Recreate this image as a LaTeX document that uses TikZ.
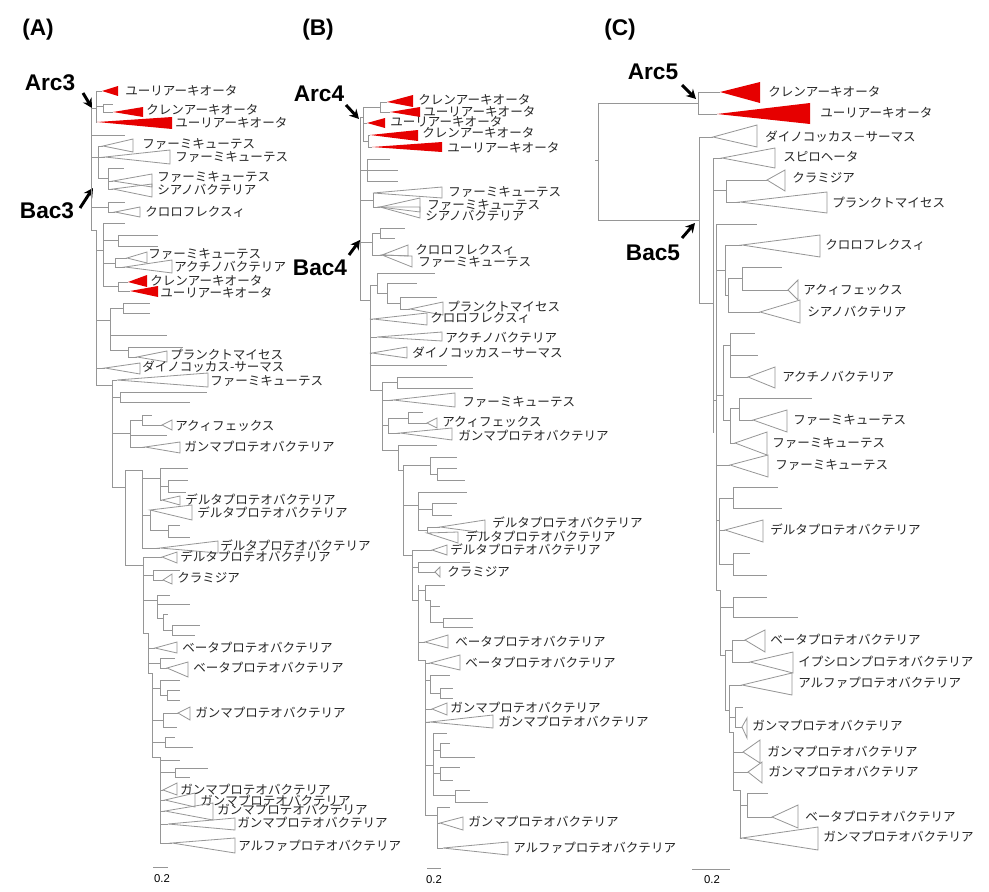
\documentclass[tikz,border=0pt]{standalone}
\usepackage{fontspec}
\usetikzlibrary{arrows.meta}
\newfontfamily\jp{Noto Sans CJK JP}
\newfontfamily\ar{Liberation Sans}
\definecolor{brc}{RGB}{150,150,150}
\definecolor{redc}{RGB}{230,0,0}
\newcounter{labn}
\newcommand\HB[3]{\draw[br] (#1,#3) -- (#2,#3);}
\newcommand\VB[3]{\draw[br] (#1,#2) -- (#1,#3);}
\newcommand\GT[5]{\draw[gtri] (#1,#2) -- (#3,#4) -- (#3,#5) -- cycle;}
\newcommand\RT[5]{\fill[rtri] (#1,#2) -- (#3,#4) -- (#3,#5) -- cycle;}
\newcommand\LB[3]{\stepcounter{labn}\node[lab] (l\arabic{labn}) at (#1,#2) {#3};}
\tikzset{
  br/.style={draw=brc, line width=0.6pt},
  gtri/.style={draw=brc, line width=0.6pt, line join=miter},
  rtri/.style={fill=redc},
  lab/.style={anchor=west, inner sep=0pt, font=\jp\fontsize{9.4}{10}\selectfont, text=black!85},
  big/.style={inner sep=0pt, font=\ar\bfseries\fontsize{17}{19}\selectfont},
  arr/.style={line width=2.2pt, -{Stealth[length=7pt,width=7.5pt]}, black},
  sc/.style={inner sep=0pt, font=\ar\fontsize{8.5}{10}\selectfont},
}
\begin{document}
\begin{tikzpicture}[x=0.75pt,y=-0.75pt]
\useasboundingbox (0,0) rectangle (989,892);
\fill[white] (0,0) rectangle (989,892);

% ================= PANEL A =================
\node[big] (tA) at (38,30) {(A)};
\node[big] (arcA) at (50,83) {Arc3};
\node[big] (bacA) at (47,211) {Bac3};
\coordinate (aAs) at (83,93); \coordinate (aAe) at (92,108);
\coordinate (bAs) at (80,208); \coordinate (bAe) at (93,188);
\draw[arr] (aAs) -- (aAe);
\draw[arr] (bAs) -- (bAe);

\VB{91}{108}{230}
% archaea
\HB{91}{96}{108} \VB{96}{91}{122}
\HB{96}{102}{91} \RT{102}{91}{118}{86}{96} \LB{125}{91}{ユーリアーキオータ}
\HB{96}{103}{106} \VB{103}{104}{112} \HB{103}{113}{104}
\HB{103}{113}{112} \RT{113}{112}{143}{107}{117} \LB{146}{110}{クレンアーキオータ}
\HB{96}{97}{122} \RT{97}{122}{172}{117}{129} \LB{175}{123}{ユーリアーキオータ}
% bacteria
\HB{91}{125}{135}
\HB{91}{98}{157} \VB{98}{146}{178}
\HB{98}{103}{146} \GT{103}{146}{133}{139}{152} \LB{142}{144}{ファーミキューテス}
\HB{98}{105}{157} \GT{105}{157}{170}{150}{164} \LB{175}{157}{ファーミキューテス}
\HB{98}{108}{178} \VB{108}{168}{189} \HB{108}{124}{168}
\HB{108}{113}{181} \GT{113}{181}{152}{174}{187} \LB{157}{177}{ファーミキューテス}
\HB{108}{113}{189} \GT{113}{189}{152}{184}{197} \LB{157}{190}{シアノバクテリア}
\HB{91}{108}{207} \VB{108}{202}{212} \HB{108}{125}{202}
\HB{108}{115}{212} \GT{115}{212}{140}{207}{217} \LB{145}{212}{クロロフレクスィ}
\HB{91}{96}{230} \VB{96}{230}{385}
\HB{96}{103}{250} \VB{103}{223}{286} \HB{103}{125}{223}
\HB{103}{118}{240} \VB{118}{235}{246} \HB{118}{158}{235} \HB{118}{158}{246}
\HB{103}{115}{263} \VB{115}{258}{267}
\HB{115}{127}{258} \GT{127}{258}{147}{252}{263} \LB{148}{254}{ファーミキューテス}
\HB{115}{125}{267} \GT{125}{267}{172}{260}{273} \LB{174}{267}{アクチノバクテリア}
\HB{103}{118}{286} \VB{118}{282}{291}
\HB{118}{128}{282} \RT{128}{282}{147}{275}{287} \LB{150}{281}{クレンアーキオータ}
\HB{118}{130}{291} \RT{130}{291}{158}{286}{297} \LB{160}{293}{ユーリアーキオータ}
\HB{96}{110}{320} \VB{110}{308}{350}
\HB{110}{123}{308} \VB{123}{303}{313} \HB{123}{150}{303} \HB{123}{150}{313}
\HB{110}{167}{335}
\HB{110}{128}{350} \VB{128}{347}{357} \HB{128}{183}{347}
\HB{128}{137}{357} \GT{137}{357}{167}{351}{362} \LB{170}{355}{プランクトマイセス}
\HB{96}{105}{368} \GT{105}{368}{140}{363}{374} \LB{142}{367}{ダイノコッカス-サーマス}
\HB{96}{112}{385} \VB{112}{380}{487}
\HB{112}{117}{380} \GT{117}{380}{208}{373}{387} \LB{210}{381}{ファーミキューテス}
\HB{112}{120}{397} \VB{120}{392}{402} \HB{120}{207}{392} \HB{120}{190}{402}
\HB{112}{130}{433} \VB{130}{420}{447}
\HB{130}{142}{420} \VB{142}{415}{425} \HB{142}{152}{415}
\HB{142}{162}{425} \GT{162}{425}{172}{420}{430} \LB{175}{426}{アクィフェックス}
\HB{130}{167}{435}
\HB{130}{145}{447} \GT{145}{447}{180}{442}{453} \LB{184}{447}{ガンマプロテオバクテリア}
\HB{112}{125}{487} \VB{125}{470}{565}
\HB{125}{142}{470} \VB{142}{470}{548}
\HB{142}{160}{478} \VB{160}{468}{500} \HB{160}{188}{468}
\HB{160}{168}{486} \VB{168}{480}{492} \HB{168}{188}{480} \HB{168}{186}{492}
\HB{160}{162}{500} \GT{162}{500}{180}{496}{505} \LB{185}{500}{デルタプロテオバクテリア}
\HB{142}{150}{515} \VB{150}{510}{530}
\GT{150}{510}{192}{505}{520} \LB{197}{513}{デルタプロテオバクテリア}
\HB{150}{168}{530} \VB{168}{525}{537} \HB{168}{180}{525} \HB{168}{190}{537}
\HB{142}{160}{548} \GT{160}{548}{218}{541}{553} \LB{220}{546}{デルタプロテオバクテリア}
\HB{125}{143}{565} \VB{143}{557}{633}
\HB{143}{162}{557} \GT{162}{557}{177}{552}{563} \LB{180}{557}{デルタプロテオバクテリア}
\HB{143}{153}{575} \VB{153}{570}{580} \HB{153}{180}{570}
\HB{153}{163}{580} \GT{163}{580}{172}{574}{584} \LB{177}{578}{クラミジア}
\HB{143}{157}{600} \VB{157}{595}{618} \HB{157}{170}{595} \HB{157}{190}{604}
\HB{157}{163}{618} \VB{163}{614}{630} \HB{163}{168}{614}
\HB{163}{172}{630} \VB{172}{625}{635} \HB{172}{200}{625} \HB{172}{195}{635}
\HB{143}{148}{633} \VB{148}{633}{673}
\HB{148}{155}{648} \GT{155}{648}{177}{642}{653} \LB{182}{648}{ベータプロテオバクテリア}
\HB{148}{160}{663} \VB{160}{658}{668} \HB{160}{175}{658}
\HB{160}{167}{668} \GT{167}{668}{188}{662}{677} \LB{193}{668}{ベータプロテオバクテリア}
\HB{148}{152}{673} \VB{152}{673}{757}
\HB{152}{160}{688} \VB{160}{680}{695} \HB{160}{180}{680}
\HB{160}{167}{695} \VB{167}{690}{700} \HB{167}{180}{690} \HB{167}{180}{700}
\HB{152}{163}{720} \VB{163}{713}{727}
\HB{163}{178}{713} \GT{178}{713}{190}{707}{720} \LB{195}{713}{ガンマプロテオバクテリア}
\HB{163}{177}{727}
\HB{152}{165}{742} \VB{165}{737}{747} \HB{165}{175}{737} \HB{165}{193}{747}
\HB{152}{160}{757} \VB{160}{757}{843}
\HB{160}{180}{760} \HB{160}{175}{772} \VB{175}{768}{777} \HB{175}{208}{768} \HB{175}{190}{777}
\HB{160}{163}{790} \GT{163}{790}{177}{783}{795} \LB{180}{790}{ガンマプロテオバクテリア}
\HB{160}{165}{800} \GT{165}{800}{195}{793}{807} \LB{200}{801}{ガンマプロテオバクテリア}
\HB{160}{165}{811} \GT{165}{811}{213}{803}{820} \LB{217}{810}{ガンマプロテオバクテリア}
\HB{160}{168}{824} \GT{168}{824}{235}{818}{830} \LB{237}{823}{ガンマプロテオバクテリア}
\HB{160}{172}{843} \GT{172}{843}{235}{838}{853} \LB{238}{846}{アルファプロテオバクテリア}
\coordinate (sA1) at (153,867); \coordinate (sA2) at (168,867);
\draw[br] (sA1) -- (sA2);
\node[sc] (sAt) at (162,879) {0.2};

% ================= PANEL B =================
\node[big] (tB) at (318,30) {(B)};
\node[big] (arcB) at (319,94) {Arc4};
\node[big] (bacB) at (320,268) {Bac4};
\coordinate (aBs) at (346,105); \coordinate (aBe) at (359,119);
\coordinate (bBs) at (349,255); \coordinate (bBe) at (360,240);
\draw[arr] (aBs) -- (aBe);
\draw[arr] (bBs) -- (bBe);

\VB{360}{117}{300}
\HB{360}{363}{117} \VB{363}{107}{141}
\HB{363}{380}{107} \VB{380}{102}{112}
\HB{380}{387}{102} \RT{387}{102}{413}{95}{107} \LB{418}{100}{クレンアーキオータ}
\HB{380}{390}{112} \RT{390}{112}{420}{107}{117} \LB{423}{112}{ユーリアーキオータ}
\HB{363}{367}{123} \RT{367}{123}{385}{118}{128} \LB{390}{122}{ユーリアーキオータ}
\HB{363}{368}{141} \VB{368}{135}{147}
\HB{368}{370}{135} \RT{370}{135}{418}{130}{141} \LB{422}{133}{クレンアーキオータ}
\HB{368}{372}{147} \RT{372}{147}{442}{142}{152} \LB{447}{148}{ユーリアーキオータ}
\HB{360}{367}{170} \VB{367}{159}{181} \HB{367}{390}{159} \HB{367}{398}{170} \HB{367}{398}{181}
\HB{360}{373}{200} \VB{373}{193}{207}
\GT{373}{193}{442}{187}{198} \LB{448}{192}{ファーミキューテス}
\HB{373}{380}{207} \GT{380}{207}{420}{198}{212} \LB{427}{205}{ファーミキューテス}
\GT{380}{207}{420}{207}{218} \LB{425}{216}{シアノバクテリア}
\HB{360}{372}{242} \VB{372}{233}{255}
\HB{372}{380}{233} \VB{380}{228}{238} \HB{380}{405}{228} \HB{380}{395}{238}
\HB{372}{382}{255} \GT{382}{255}{408}{245}{256} \LB{415}{250}{クロロフレクスィ}
\GT{382}{255}{412}{256}{267} \LB{418}{262}{ファーミキューテス}
\HB{360}{370}{300} \VB{370}{285}{390}
\HB{370}{377}{285} \VB{377}{273}{293} \HB{377}{435}{273}
\HB{377}{387}{293} \VB{387}{283}{303} \HB{387}{417}{283}
\HB{387}{400}{303} \VB{400}{297}{309} \HB{400}{437}{297}
\HB{400}{410}{309} \GT{410}{309}{443}{302}{315} \LB{447}{307}{プランクトマイセス}
\HB{370}{373}{319} \GT{373}{319}{427}{313}{325} \LB{430}{318}{クロロフレクスィ}
\HB{370}{377}{337} \GT{377}{337}{442}{332}{341} \LB{445}{338}{アクチノバクテリア}
\HB{370}{372}{353} \GT{372}{353}{407}{347}{358} \LB{412}{353}{ダイノコッカス－サーマス}
\HB{370}{447}{365}
\HB{370}{382}{390} \VB{382}{382}{450}
\HB{382}{397}{382} \VB{397}{377}{388} \HB{397}{473}{377} \HB{397}{473}{388}
\HB{382}{393}{400} \GT{393}{400}{455}{393}{407} \LB{462}{402}{ファーミキューテス}
\HB{382}{388}{425} \VB{388}{418}{433}
\HB{388}{408}{418} \VB{408}{412}{423} \HB{408}{423}{412}
\HB{408}{427}{423} \GT{427}{423}{437}{418}{428} \LB{442}{422}{アクィフェックス}
\HB{388}{400}{433} \GT{400}{433}{452}{428}{440} \LB{458}{436}{ガンマプロテオバクテリア}
\HB{382}{398}{450} \VB{398}{445}{470} \HB{398}{437}{445}
\HB{398}{403}{470} \VB{403}{465}{555}
\HB{403}{430}{465} \VB{430}{457}{474} \HB{430}{457}{457}
\HB{430}{437}{474} \VB{437}{468}{480} \HB{437}{457}{468} \HB{437}{465}{480}
\HB{403}{418}{505} \VB{418}{492}{530} \HB{418}{467}{492}
\HB{418}{432}{509} \VB{432}{503}{515} \HB{432}{457}{503} \HB{432}{452}{515}
\HB{418}{427}{530} \VB{427}{527}{533}
\HB{427}{440}{527} \GT{440}{527}{485}{520}{533} \LB{492}{523}{デルタプロテオバクテリア}
\GT{427}{533}{458}{532}{543} \LB{465}{537}{デルタプロテオバクテリア}
\HB{403}{412}{555} \VB{412}{550}{600}
\HB{412}{432}{550} \GT{432}{550}{447}{545}{555} \LB{450}{550}{デルタプロテオバクテリア}
\HB{412}{418}{567} \VB{418}{562}{572} \HB{418}{470}{562}
\HB{418}{435}{572} \GT{435}{572}{440}{567}{577} \LB{447}{572}{クラミジア}
\HB{412}{418}{600} \VB{418}{585}{660}
\HB{418}{425}{590} \VB{425}{585}{600} \HB{425}{445}{585}
\HB{425}{430}{600} \VB{430}{600}{622} \HB{430}{440}{606}
\HB{430}{443}{622} \VB{443}{618}{627} \HB{443}{473}{618} \HB{443}{473}{627}
\HB{418}{425}{642} \GT{425}{642}{448}{635}{648} \LB{455}{642}{ベータプロテオバクテリア}
\HB{418}{425}{660} \VB{425}{660}{815}
\HB{425}{430}{663} \GT{430}{663}{460}{655}{670} \LB{465}{663}{ベータプロテオバクテリア}
\HB{425}{430}{680} \VB{430}{675}{693} \HB{430}{450}{675}
\HB{430}{440}{693} \VB{440}{688}{698} \HB{440}{453}{688} \HB{440}{453}{698}
\HB{425}{432}{709} \GT{432}{709}{447}{703}{715} \LB{450}{708}{ガンマプロテオバクテリア}
\HB{425}{430}{722} \GT{430}{722}{493}{715}{728} \LB{498}{722}{ガンマプロテオバクテリア}
\HB{425}{433}{765} \VB{433}{733}{795}
\HB{433}{447}{733} \HB{433}{440}{750} \VB{440}{743}{757} \HB{440}{450}{743} \HB{440}{475}{757}
\HB{433}{440}{773} \VB{440}{767}{780} \HB{440}{460}{767} \HB{440}{453}{780}
\HB{433}{455}{795} \VB{455}{790}{802} \HB{455}{470}{790} \HB{455}{488}{802}
\HB{425}{437}{815} \VB{437}{807}{848} \HB{437}{450}{807}
\HB{437}{440}{823} \GT{440}{823}{463}{817}{830} \LB{468}{822}{ガンマプロテオバクテリア}
\HB{437}{443}{848} \GT{443}{848}{508}{842}{855} \LB{513}{848}{アルファプロテオバクテリア}
\coordinate (sB1) at (427,868); \coordinate (sB2) at (441,868);
\draw[br] (sB1) -- (sB2);
\node[sc] (sBt) at (434,880) {0.2};

% ================= PANEL C =================
\node[big] (tC) at (620,30) {(C)};
\node[big] (arcC) at (653,72) {Arc5};
\node[big] (bacC) at (653,253) {Bac5};
\coordinate (aCs) at (682,85); \coordinate (aCe) at (696,99);
\coordinate (bCs) at (682,238); \coordinate (bCe) at (695,223);
\draw[arr] (aCs) -- (aCe);
\draw[arr] (bCs) -- (bCe);

\VB{598}{103}{220} \HB{595}{598}{160}
\HB{598}{698}{103} \VB{698}{92}{114}
\HB{698}{720}{92} \RT{720}{92}{760}{82}{103} \LB{768}{92}{クレンアーキオータ}
\HB{698}{717}{114} \RT{717}{114}{810}{103}{124} \LB{820}{113}{ユーリアーキオータ}
\HB{598}{699}{220} \VB{699}{137}{303}
\HB{699}{713}{137} \GT{713}{137}{757}{125}{147} \LB{765}{137}{ダイノコッカス－サーマス}
\HB{699}{713}{303} \VB{713}{158}{433}
\HB{713}{722}{158} \GT{722}{158}{775}{148}{168} \LB{783}{157}{スピロヘータ}
\HB{713}{726}{190} \VB{726}{180}{202}
\HB{726}{767}{180} \GT{767}{180}{785}{170}{191} \LB{792}{178}{クラミジア}
\HB{726}{740}{202} \GT{740}{202}{827}{192}{213} \LB{832}{203}{プランクトマイセス}
\HB{713}{716}{400} \VB{716}{224}{590} \HB{716}{757}{224}
\HB{716}{725}{270} \VB{725}{245}{295}
\HB{725}{742}{245} \GT{742}{245}{820}{235}{257} \LB{825}{245}{クロロフレクスィ}
\HB{725}{728}{295} \VB{728}{278}{312}
\HB{728}{742}{278} \VB{742}{267}{290} \HB{742}{782}{267}
\HB{742}{788}{290} \GT{788}{290}{798}{280}{300} \LB{803}{290}{アクィフェックス}
\HB{728}{760}{312} \GT{760}{312}{800}{300}{323} \LB{807}{312}{シアノバクテリア}
\HB{716}{723}{395} \VB{723}{345}{420}
\HB{723}{730}{345} \VB{730}{333}{377} \HB{730}{755}{333} \HB{730}{758}{355}
\HB{730}{748}{377} \GT{748}{377}{775}{367}{388} \LB{782}{377}{アクチノバクテリア}
\HB{723}{730}{420} \VB{730}{408}{443}
\HB{730}{739}{408} \VB{739}{398}{420} \HB{739}{812}{398}
\HB{739}{753}{420} \GT{753}{420}{787}{410}{432} \LB{793}{420}{ファーミキューテス}
\HB{730}{735}{443} \GT{735}{443}{767}{432}{455} \LB{772}{443}{ファーミキューテス}
\HB{716}{730}{465} \GT{730}{465}{768}{455}{477} \LB{775}{465}{ファーミキューテス}
\HB{716}{719}{520} \VB{719}{498}{564}
\HB{719}{733}{498} \VB{733}{487}{508} \HB{733}{778}{487} \HB{733}{782}{508}
\HB{719}{725}{530} \GT{725}{530}{763}{520}{542} \LB{770}{530}{デルタプロテオバクテリア}
\HB{719}{733}{564} \VB{733}{553}{575} \HB{733}{750}{553} \HB{733}{767}{575}
\HB{716}{720}{590} \VB{720}{590}{655}
\HB{720}{733}{607} \VB{733}{597}{617} \HB{733}{767}{597} \HB{733}{798}{617}
\HB{720}{725}{655} \VB{725}{650}{710}
\HB{725}{732}{650} \VB{732}{640}{662}
\HB{732}{745}{640} \GT{745}{640}{765}{630}{652} \LB{770}{640}{ベータプロテオバクテリア}
\HB{732}{750}{662} \GT{750}{662}{793}{652}{673} \LB{798}{662}{イプシロンプロテオバクテリア}
\HB{725}{729}{710} \VB{729}{685}{732}
\HB{729}{742}{685} \GT{742}{685}{792}{673}{695} \LB{798}{683}{アルファプロテオバクテリア}
\HB{729}{735}{717} \VB{735}{707}{727} \HB{735}{743}{707}
\HB{735}{742}{727} \GT{742}{727}{747}{718}{738} \LB{752}{726}{ガンマプロテオバクテリア}
\HB{729}{733}{732} \VB{733}{732}{790}
\HB{733}{743}{752} \GT{743}{752}{760}{740}{763} \LB{767}{752}{ガンマプロテオバクテリア}
\HB{733}{748}{772} \GT{748}{772}{762}{762}{783} \LB{768}{772}{ガンマプロテオバクテリア}
\HB{733}{740}{790} \VB{740}{790}{838}
\HB{740}{747}{805} \VB{747}{793}{817} \HB{747}{768}{793}
\HB{747}{772}{817} \GT{772}{817}{798}{805}{828} \LB{805}{817}{ベータプロテオバクテリア}
\HB{740}{742}{838} \GT{742}{838}{818}{827}{850} \LB{823}{837}{ガンマプロテオバクテリア}
\coordinate (sC1) at (692,869); \coordinate (sC2) at (730,869);
\draw[br] (sC1) -- (sC2);
\node[sc] (sCt) at (712,880) {0.2};
\end{tikzpicture}
\end{document}
